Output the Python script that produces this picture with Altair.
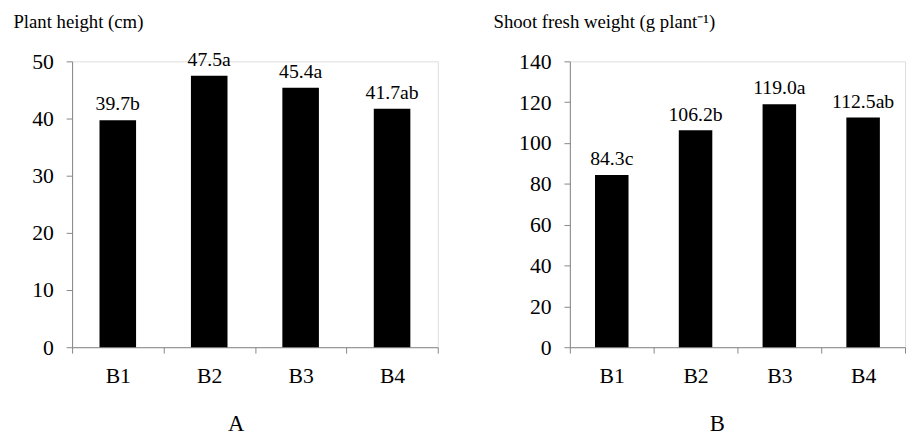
import altair as alt
import pandas as pd

categories = ["B1", "B2", "B3", "B4"]
height_values = [39.7, 47.5, 45.4, 41.7]
height_letters = ["b", "a", "a", "ab"]
weight_values = [84.3, 106.2, 119.0, 112.5]
weight_letters = ["c", "b", "a", "ab"]
height_ticks = [0, 10, 20, 30, 40, 50]
weight_ticks = [0, 20, 40, 60, 80, 100, 120, 140]

FONT = "Liberation Serif"
GRAY = "#868686"


def make_df(vals, letters):
    return pd.DataFrame({
        "cat": categories,
        "val": vals,
        "label": [f"{v:.1f}{l}" for v, l in zip(vals, letters)],
    })


def panel(df, ticks, ytitle, xtitle, width, title_x, xtitle_x):
    x = alt.X(
        "cat:N",
        sort=categories,
        scale=alt.Scale(paddingInner=0, paddingOuter=0),
        axis=alt.Axis(
            title=xtitle,
            tickBand="extent",
            labelAngle=0,
            labelFontSize=22,
            labelPadding=30,
            labelBaseline="alphabetic",
            labelColor="black",
            labelFont=FONT,
            domainColor=GRAY,
            tickColor=GRAY,
            tickSize=6,
            titleFontSize=23,
            titleFontWeight="normal",
            titleFont=FONT,
            titleColor="black",
            titleX=xtitle_x,
            titleY=85,
            titleAlign="center",
            titleBaseline="alphabetic",
        ),
    )
    y = alt.Y(
        "val:Q",
        scale=alt.Scale(domain=[ticks[0], ticks[-1]], nice=False),
        axis=alt.Axis(
            title=ytitle,
            values=ticks,
            grid=False,
            labelFontSize=22,
            labelPadding=13,
            labelColor="black",
            labelFont=FONT,
            domainColor=GRAY,
            tickColor=GRAY,
            tickSize=6,
            titleAngle=0,
            titleAlign="left",
            titleBaseline="alphabetic",
            titleX=title_x,
            titleY=-34,
            titleFontSize=19,
            titleFontWeight="normal",
            titleFont=FONT,
            titleColor="black",
        ),
    )
    bars = alt.Chart(df).mark_bar(
        color="black", width=alt.RelativeBandSize(0.4)
    ).encode(x=x, y=y)
    text = alt.Chart(df).mark_text(
        dy=-10, baseline="alphabetic", fontSize=20, font=FONT, color="black"
    ).encode(x=alt.X("cat:N", sort=categories), y="val:Q", text="label:N")
    return alt.layer(bars, text).properties(width=width, height=290)


left = panel(make_df(height_values, height_letters), height_ticks,
             "Plant height (cm)", "A", 371, -60, 166)
right = panel(make_df(weight_values, weight_letters), weight_ticks,
              "Shoot fresh weight (g plant\u207b\u00b9)", "B", 340, -78, 149)

chart = alt.hconcat(left, right, spacing=54).properties(
    padding={"left": 4, "top": 1, "right": 0, "bottom": 0},
    background="white",
).configure_view(stroke=None).configure(font=FONT)

chart.save("out.html", embed_options={"renderer": "svg", "actions": False})
